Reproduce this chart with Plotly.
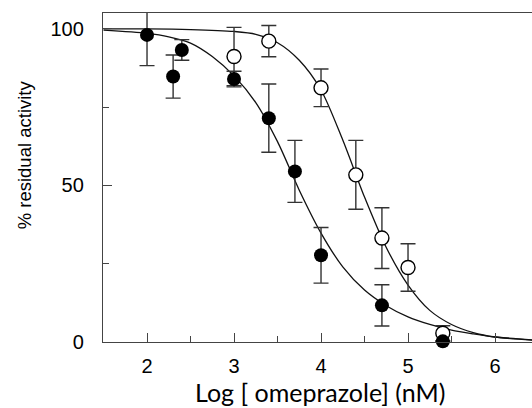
import plotly.graph_objects as go

# ---- data ----
filled_x = [2.0, 2.3, 2.4, 3.0, 3.4, 3.7, 4.0, 4.7, 5.4]
filled_y = [98.1, 84.8, 93.3, 84.0, 71.5, 54.5, 27.7, 11.7, 0.2]
filled_err = [9.8, 6.9, 3.3, 2.5, 10.9, 9.9, 8.9, 6.6, 0.0]

open_x = [3.0, 3.4, 4.0, 4.4, 4.7, 5.0, 5.4]
open_y = [91.2, 96.1, 81.2, 53.4, 33.2, 23.8, 2.8]
open_err = [9.3, 5.0, 6.0, 11.0, 9.7, 7.6, 2.4]

# fitted curves
fit_filled_x = [1.5, 2.0, 2.25, 2.5, 2.75, 3.0, 3.25, 3.5, 3.75, 4.0, 4.25, 4.5,
                4.75, 5.0, 5.25, 5.5, 5.75, 6.0, 6.43]
fit_filled_y = [99.6, 98.6, 97.5, 95.5, 91.2, 85.0, 76.5, 64.0, 48.5, 34.8, 24.0,
                16.6, 11.6, 8.0, 5.6, 3.8, 2.6, 1.6, 0.7]

fit_open_x = [1.5, 2.0, 2.5, 3.0, 3.25, 3.5, 3.75, 4.0, 4.25, 4.5, 4.75, 5.0,
              5.25, 5.5, 5.75, 6.0, 6.43]
fit_open_y = [100.0, 100.0, 99.8, 99.2, 98.3, 95.6, 90.0, 80.5, 64.5, 46.3, 30.2,
              18.2, 10.1, 5.6, 3.0, 1.6, 0.6]

x_ticks = [2, 3, 4, 5, 6]
y_ticks = [0, 50, 100]

x_title = "Log [ omeprazole] (nM)"
y_title = "% residual activity"

AX = "#444444"
ERR = "#333333"

fig = go.Figure()

fig.add_trace(go.Scatter(x=fit_filled_x, y=fit_filled_y, mode="lines",
                         line=dict(color="#111111", width=1.3, shape="spline", smoothing=0.8),
                         hoverinfo="skip"))
fig.add_trace(go.Scatter(x=fit_open_x, y=fit_open_y, mode="lines",
                         line=dict(color="#111111", width=1.3, shape="spline", smoothing=0.8),
                         hoverinfo="skip"))

# open series
fig.add_trace(go.Scatter(x=open_x, y=open_y, mode="markers",
                         marker=dict(color="rgba(0,0,0,0)", size=1),
                         error_y=dict(type="data", array=open_err, visible=True,
                                      color=ERR, thickness=1.4, width=7.5),
                         cliponaxis=True))
fig.add_trace(go.Scatter(x=open_x, y=open_y, mode="markers",
                         marker=dict(color="white", size=14,
                                     line=dict(color="black", width=1.4)),
                         cliponaxis=False))

# filled series
fig.add_trace(go.Scatter(x=filled_x, y=filled_y, mode="markers",
                         marker=dict(color="rgba(0,0,0,0)", size=1),
                         error_y=dict(type="data", array=filled_err, visible=True,
                                      color=ERR, thickness=1.4, width=7.5),
                         cliponaxis=True))
fig.add_trace(go.Scatter(x=filled_x, y=filled_y, mode="markers",
                         marker=dict(color="black", size=14),
                         cliponaxis=False))

fig.update_layout(
    width=532, height=408,
    margin=dict(l=103, r=0, t=13, b=66, pad=0),
    paper_bgcolor="white", plot_bgcolor="white",
    showlegend=False,
    font=dict(family="Liberation Sans, Arial, sans-serif", color="black"),
    xaxis=dict(range=[1.494, 6.425], tickvals=x_ticks, ticktext=[str(v) for v in x_ticks],
               ticks="inside", ticklen=8.5, tickwidth=1.3, tickcolor=AX,
               showline=True, linecolor=AX, linewidth=1.3, mirror=True,
               showgrid=False, zeroline=False,
               tickfont=dict(size=20, family="Liberation Sans, Arial, sans-serif", color="black"),
               ticklabelstandoff=6,
               minor=dict(dtick=0.5, tick0=0, ticks="inside", ticklen=5.7, tickwidth=1.3,
                          tickcolor=AX, showgrid=False)),
    yaxis=dict(range=[0, 105.1], tickvals=y_ticks, ticktext=[str(v) for v in y_ticks],
               ticks="inside", ticklen=8.5, tickwidth=1.3, tickcolor=AX,
               showline=True, linecolor=AX, linewidth=1.3, mirror=False,
               showgrid=False, zeroline=False,
               tickfont=dict(size=20, family="Liberation Sans, Arial, sans-serif", color="black"),
               ticklabelstandoff=14,
               minor=dict(dtick=25, tick0=0, ticks="inside", ticklen=5.7, tickwidth=1.3,
                          tickcolor=AX, showgrid=False)),
    annotations=[
        dict(text=x_title, xref="paper", yref="paper", x=0.506, y=-0.153,
             xanchor="center", yanchor="middle", showarrow=False,
             font=dict(family="Lato, sans-serif", size=25, color="black")),
        dict(text=y_title, xref="paper", yref="paper", x=-0.181, y=0.5685,
             xanchor="center", yanchor="middle", showarrow=False, textangle=-90,
             font=dict(family="Liberation Sans, Arial, sans-serif", size=18.5, color="black")),
    ],
)

fig.write_html("out.html", config={"displayModeBar": False},
               post_script="document.body.style.margin='0';document.body.style.padding='0';")
